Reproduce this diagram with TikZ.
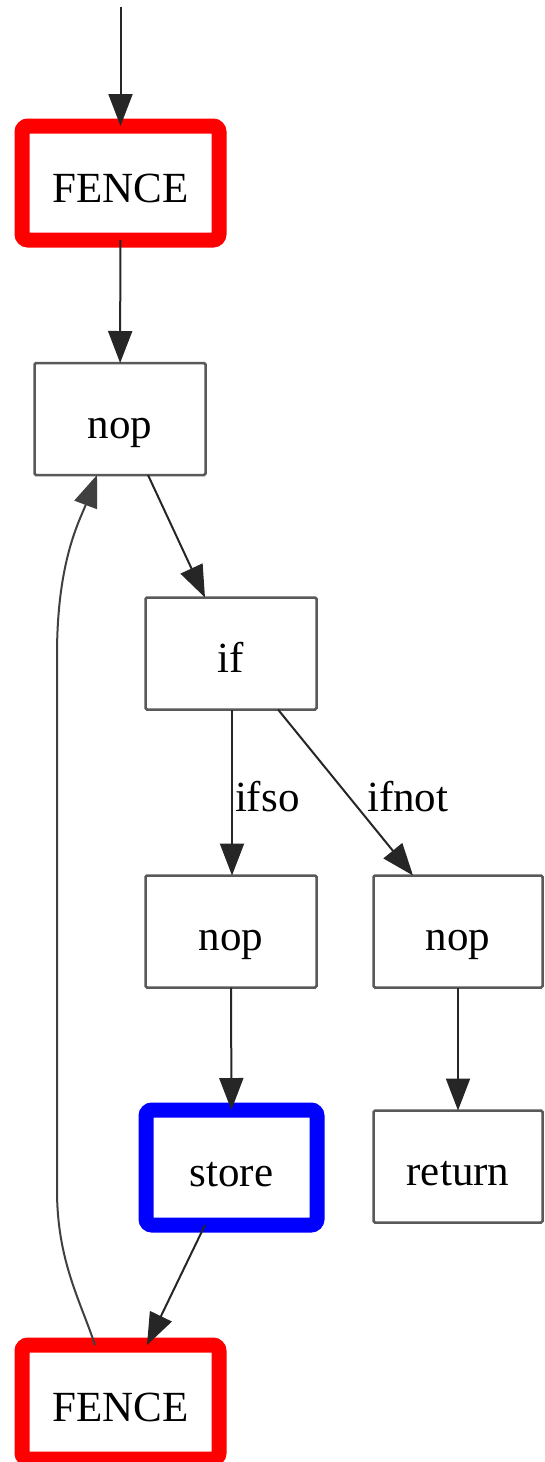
\documentclass[tikz,border=0pt]{standalone}
\usepackage{fontspec}
\setmainfont{Liberation Serif}
\usetikzlibrary{arrows.meta}
\begin{document}
\begin{tikzpicture}[x=1pt,y=-1pt,
  box/.style={draw=black!65,line width=2.5pt,rounded corners=1.5pt,minimum width=171pt,minimum height=112pt,outer sep=0pt,inner sep=0pt,font=\fontsize{43}{50}\selectfont,text height=42pt,text depth=4pt},
  fencebox/.style={box,draw=red,line width=15pt,rounded corners=6pt,minimum width=197pt,minimum height=114pt},
  storebox/.style={box,draw=blue,line width=15pt,rounded corners=6pt,minimum width=171pt,minimum height=115pt},
  conn/.style={draw=black!85,line width=2pt,-{Triangle[length=32pt,width=24pt]}},
  lbl/.style={font=\fontsize{43}{50}\selectfont,inner sep=0pt,anchor=base west}
]
\useasboundingbox (0,0) rectangle (544,1462);
\coordinate (start) at (120.5,7);
\node[fencebox] (fence1) at (120.5,183) {FENCE};
\node[box] (nop1) at (120,419) {nop};
\node[box] (if) at (231,653.5) {if};
\node[box] (nop2) at (231,931.5) {nop};
\node[box,minimum width=169pt] (nop3) at (458,931.5) {nop};
\node[storebox] (store) at (231.5,1167.5) {store};
\node[box,minimum width=169pt] (ret) at (458,1166.5) {return};
\node[fencebox] (fence2) at (120.5,1402) {FENCE};

\draw[conn] (start) -- (fence1);
\draw[conn] (fence1) -- (nop1);
\draw[conn] ([xshift=28pt]nop1.south) -- ([xshift=-26pt]if.north);
\draw[conn] ([xshift=1pt]if.south) -- node[lbl,pos=0.616,xshift=2pt]{ifso} ([xshift=1pt]nop2.north);
\draw[conn] ([xshift=47pt]if.south) -- node[lbl,pos=0.616,xshift=5pt]{ifnot} ([xshift=-45pt]nop3.north);
\draw[conn] (nop2) -- (store);
\draw[conn] (nop3) -- (ret);
\draw[conn] ([xshift=-26.5pt]store.south) -- ([xshift=26.5pt]fence2.north);
\draw[conn,draw=black!75] ([xshift=-25.5pt]fence2.north) .. controls (80,1300) and (57,1260) .. (57,1190)
  -- (57,655) .. controls (57,560) and (80,520) .. ([xshift=-23pt]nop1.south);
\end{tikzpicture}
\end{document}
